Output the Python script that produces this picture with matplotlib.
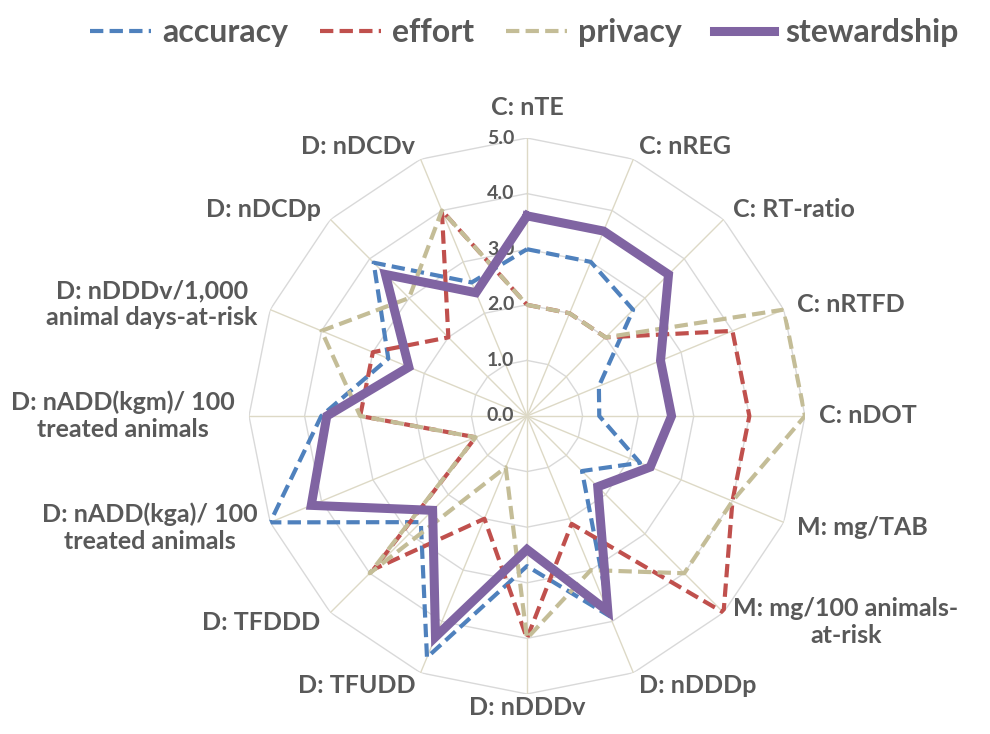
import numpy as np
import matplotlib
matplotlib.use('Agg')
import matplotlib.pyplot as plt

#=============================================================================
#... data
categories = ['C: nTE', 'C: nREG', 'C: RT-ratio', 'C: nRTFD', 'C: nDOT',
              'M: mg/TAB', 'M: mg/100 animals-\nat-risk', 'D: nDDDp', 'D: nDDDv',
              'D: TFUDD', 'D: TFDDD', 'D: nADD(kga)/ 100\ntreated animals',
              'D: nADD(kgm)/ 100\ntreated animals',
              'D: nDDDv/1,000\nanimal days-at-risk', 'D: nDCDp', 'D: nDCDv']

accuracy    = [3.0, 3.0, 2.7, 1.4, 1.3, 2.2, 1.4, 3.9, 2.7, 4.7, 2.7, 5.0, 3.7, 2.7, 3.9, 2.6]
effort      = [2.0, 2.0, 2.0, 4.0, 4.0, 4.0, 5.0, 2.1, 4.0, 2.0, 3.9, 1.0, 3.0, 3.0, 2.0, 4.0]
privacy     = [2.0, 2.0, 2.0, 5.0, 5.0, 4.0, 4.0, 3.0, 4.0, 1.0, 4.0, 1.0, 3.0, 4.0, 3.0, 4.0]
stewardship = [3.6, 3.6, 3.6, 2.6, 2.6, 2.4, 1.8, 3.8, 2.4, 4.3, 2.4, 4.2, 3.6, 2.3, 3.6, 2.4]

rings = [1.0, 2.0, 3.0, 4.0, 5.0]
tick_labels = ['0.0', '1.0', '2.0', '3.0', '4.0', '5.0']

#=============================================================================
#... styles
txt_col = '#595959'
font = 'Lato'
plt.rcParams['font.family'] = [font, 'DejaVu Sans']

n = len(categories)
theta = np.arange(n) * 2 * np.pi / n
theta_c = np.append(theta, theta[0])

fig = plt.figure(figsize=(9.9, 7.34), dpi=100)
ax = fig.add_axes([0.2515, 0.0545, 0.5616, 0.7575], projection='polar')
ax.set_theta_zero_location('N')
ax.set_theta_direction(-1)
ax.set_ylim(0, 5)
ax.grid(False)
ax.set_xticks([])
ax.set_yticks([])
ax.spines['polar'].set_visible(False)
ax.patch.set_alpha(0)

#... polygon rings and spokes
for r in rings:
    ax.plot(theta_c, [r] * (n + 1), color='#D9D9D9', lw=1.0, zorder=1)
for t in theta:
    ax.plot([t, t], [0, 5], color='#DDD9C6', lw=1.0, zorder=1)

#... value labels along the top spoke
for i, lab in enumerate(tick_labels):
    ax.annotate(lab, xy=(0, i), xytext=(-9, 0), textcoords='offset points',
                ha='right', va='center', fontsize=14, fontweight='bold',
                color=txt_col, zorder=2)

#... category labels
for t, lab in zip(theta, categories):
    s = np.sin(t)
    if s > 0.1:
        ha = 'left'
    elif s < -0.1:
        ha = 'right'
    else:
        ha = 'center'
    r = 5.25
    if abs(t) < 1e-6:
        r = 5.55
    ax.text(t, r, lab, ha=ha, va='center', multialignment='center',
            fontsize=18, fontweight='bold', color=txt_col, clip_on=False)

#... series
dash = (3.2, 1.5)
l1, = ax.plot(theta_c, accuracy + accuracy[:1], color='#4F81BD', lw=3.0,
              dashes=dash, label='accuracy', zorder=3)
l2, = ax.plot(theta_c, effort + effort[:1], color='#C0504D', lw=3.0,
              dashes=dash, label='effort', zorder=3)
l3, = ax.plot(theta_c, privacy + privacy[:1], color='#C4BD97', lw=3.0,
              dashes=dash, label='privacy', zorder=3)
l4, = ax.plot(theta_c, stewardship + stewardship[:1], color='#8064A2', lw=6.5,
              solid_joinstyle='miter', label='stewardship', zorder=4)

leg = fig.legend(handles=[l1, l2, l3, l4], loc='upper center',
                 bbox_to_anchor=(0.53, 1.015), ncol=4, frameon=False,
                 handlelength=1.9, handletextpad=0.35, columnspacing=1.0,
                 prop={'family': font, 'weight': 'bold', 'size': 23})
for tx in leg.get_texts():
    tx.set_color(txt_col)

fig.savefig('out.png', dpi=100)
